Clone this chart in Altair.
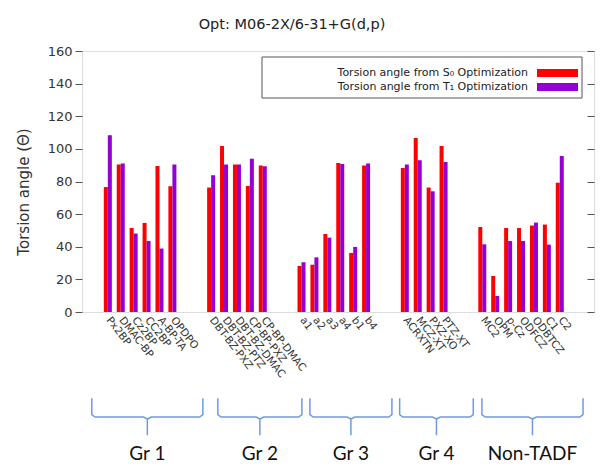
import altair as alt
import pandas as pd

# ---------------- data ----------------
categories = ["Px2BP", "DMAC-BP", "Cz2BP", "CC2BP", "A-BP-TA", "OPDPO",
              "DBT-BZ-PXZ", "DBT-BZ-PTZ", "DBT-BZ-DMAC", "CP-BP-PXZ", "CP-BP-DMAC",
              "a1", "a2", "a3", "a4", "b1", "b4",
              "ACRXTN", "MCZ-XT", "PXZ-XO", "PTZ-XT",
              "MC2", "OPM", "p-Cz", "ODFCZ", "ODBTCZ", "C1", "C2"]
slots = [0, 1, 2, 3, 4, 5,
         8, 9, 10, 11, 12,
         15, 16, 17, 18, 19, 20,
         23, 24, 25, 26,
         29, 30, 31, 32, 33, 34, 35]
s0_values = [76.6, 90.4, 51.5, 54.6, 89.5, 77.1,
             76.3, 101.8, 90.4, 77.3, 89.8,
             28.2, 29.0, 47.8, 91.4, 36.2, 89.8,
             88.3, 106.7, 76.3, 101.8,
             52.1, 22.1, 51.5, 51.5, 53.0, 53.6, 79.3]
t1_values = [108.3, 91.0, 48.1, 43.5, 38.9, 90.4,
             83.8, 90.4, 90.4, 94.0, 89.3,
             30.5, 33.5, 45.6, 90.8, 39.9, 91.0,
             90.4, 93.0, 74.0, 92.0,
             41.5, 9.8, 43.5, 43.5, 54.8, 41.3, 95.6]
series_names = ["Torsion angle from S\u2080 Optimization",
                "Torsion angle from T\u2081 Optimization"]
series_colors = ["#ff0000", "#9400d3"]
y_ticks = [0, 20, 40, 60, 80, 100, 120, 140, 160]

groups = ["Gr 1", "Gr 2", "Gr 3", "Gr 4", "Non-TADF"]
group_start = [-1.24, 8.52, 15.65, 22.6, 28.97]
group_end = [7.36, 15.03, 22.0, 28.3, 36.8]

title_text = "Opt: M06-2X/6-31+G(d,p)"
y_title = "Torsion angle (\u0398)"

# ---------------- tables ----------------
rows = []
for cat, s, a, b in zip(categories, slots, s0_values, t1_values):
    rows.append({"cat": cat, "slot": s, "series": series_names[0], "value": a,
                 "x0": s - 0.31, "x1": s})
    rows.append({"cat": cat, "slot": s, "series": series_names[1], "value": b,
                 "x0": s, "x1": s + 0.31})
bars_df = pd.DataFrame(rows)

label_arr = [""] * 38
for cat, s in zip(categories, slots):
    label_arr[s] = cat
label_expr = "[" + ",".join("'" + l + "'" for l in label_arr) + "][datum.value]"

Y_TOP, Y_BOT, Y_TIP, Y_LAB = -52.8, -64.4, -75.5, -87.0
br = []
for g, a, b in zip(groups, group_start, group_end):
    m = (a + b) / 2
    pts = [(a, Y_TOP), (a, Y_BOT + 1.5), (a + 0.25, Y_BOT), (m - 0.3, Y_BOT),
           (m, Y_BOT - 1.2), (m, Y_TIP), (m, Y_BOT - 1.2), (m + 0.3, Y_BOT),
           (b - 0.25, Y_BOT), (b, Y_BOT + 1.5), (b, Y_TOP)]
    for k, (px, py) in enumerate(pts):
        br.append({"group": g, "order": k, "bx": px, "by": py})
br_df = pd.DataFrame(br)
glab_df = pd.DataFrame({"group": groups,
                        "gx": [(a + b) / 2 for a, b in zip(group_start, group_end)],
                        "gy": [Y_LAB] * len(groups)})

W, H = 512, 261
xscale = alt.Scale(domain=[-2, 37.65], nice=False, zero=False)
yscale = alt.Scale(domain=[0, 160], nice=False)

bars = alt.Chart(bars_df).mark_rect().encode(
    x=alt.X("x0:Q", scale=xscale,
            axis=alt.Axis(values=slots, labelExpr=label_expr, labelAngle=52,
                          labelAlign="left", labelBaseline="middle",
                          labelFontSize=10.5, labelFont="DejaVu Sans",
                          labelColor="#333", labelPadding=6, labelOverlap=False,
                          labelBound=False, labelFlush=False, labelLimit=200,
                          ticks=False, domain=False, grid=False, title=None)),
    x2="x1:Q",
    y=alt.Y("value:Q", scale=yscale,
            axis=alt.Axis(values=y_ticks, tickSize=7, tickColor="#555",
                          labelFontSize=13, labelFont="DejaVu Sans",
                          labelColor="#333", labelPadding=3, domain=False,
                          grid=False, title=None)),
    y2=alt.Y2(datum=0),
    color=alt.Color("series:N", scale=alt.Scale(domain=series_names, range=series_colors),
                    legend=None),
)

brackets = alt.Chart(br_df).mark_line(color="#6f9be0", strokeWidth=1.5).encode(
    x=alt.X("bx:Q", scale=xscale, axis=None),
    y=alt.Y("by:Q", scale=yscale,
            axis=alt.Axis(orient="right", values=y_ticks, labels=False, tickSize=7,
                          offset=-7, tickColor="#555", domain=False, grid=False,
                          title=None)),
    detail="group:N",
    order="order:Q",
)

glabels = alt.Chart(glab_df).mark_text(font="Lato", fontSize=19, color="#111",
                                        baseline="middle", align="center").encode(
    x=alt.X("gx:Q", scale=xscale, axis=None),
    y=alt.Y("gy:Q", scale=yscale, axis=None),
    text="group:N",
)

title = alt.Chart(pd.DataFrame({"t": [title_text]})).mark_text(
    font="DejaVu Sans", fontSize=14.5, color="#222", align="center", baseline="middle"
).encode(x=alt.value(210), y=alt.value(-26), text="t:N")

ytitle = alt.Chart(pd.DataFrame({"t": [y_title]})).mark_text(
    font="DejaVu Sans", fontSize=15, color="#333", align="center", baseline="middle",
    angle=270
).encode(x=alt.value(-58), y=alt.value(141), text="t:N")

legend_box = alt.Chart(pd.DataFrame({"a": [0]})).mark_rect(
    fill="white", stroke="#555", strokeWidth=1
).encode(x=alt.value(180), x2=alt.value(500), y=alt.value(6), y2=alt.value(47))

leg_layers = []
for i, (name, col) in enumerate(zip(series_names, series_colors)):
    yc = 22 + 14 * i
    leg_layers.append(alt.Chart(pd.DataFrame({"t": [name]})).mark_text(
        font="DejaVu Sans", fontSize=11, color="#222", align="right", baseline="middle"
    ).encode(x=alt.value(446), y=alt.value(yc), text="t:N"))
    leg_layers.append(alt.Chart(pd.DataFrame({"a": [0]})).mark_rect(fill=col).encode(
        x=alt.value(455), x2=alt.value(496), y=alt.value(yc - 4), y2=alt.value(yc + 4)))

chart = alt.layer(bars, brackets, glabels, title, ytitle, legend_box, *leg_layers).resolve_axis(
    x="independent", y="independent"
).properties(
    width=W, height=H,
    autosize=alt.AutoSizeParams(type="none"),
    padding={"left": 74, "top": 43, "right": 5, "bottom": 155},
).configure_view(stroke="#555", strokeWidth=1).configure(background="white")

chart.save("out.html", embed_options={"renderer": "svg", "actions": False})
